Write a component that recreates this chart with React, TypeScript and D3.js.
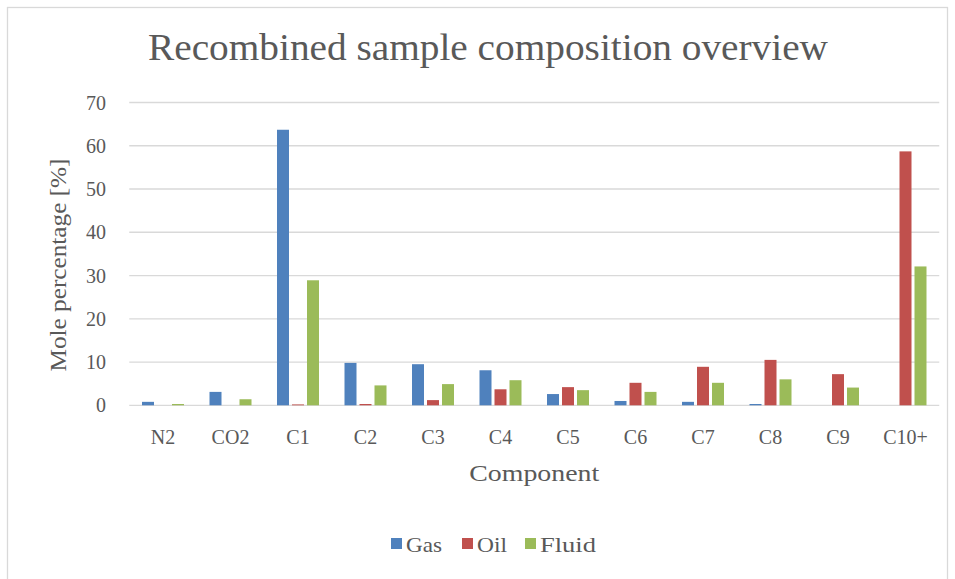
import React from "react";
import * as d3 from "d3";

const categories = ["N2", "CO2", "C1", "C2", "C3", "C4", "C5", "C6", "C7", "C8", "C9", "C10+"];
const seriesNames = ["Gas", "Oil", "Fluid"];
const gasValues = [0.8, 3.1, 63.7, 9.8, 9.5, 8.1, 2.6, 1.0, 0.8, 0.3, 0, 0];
const oilValues = [0, 0, 0.2, 0.3, 1.2, 3.7, 4.2, 5.2, 8.9, 10.5, 7.2, 58.7];
const fluidValues = [0.3, 1.4, 28.9, 4.6, 4.9, 5.8, 3.5, 3.1, 5.2, 6.0, 4.1, 32.1];
const yTicks = [0, 10, 20, 30, 40, 50, 60, 70];
const colors = ["#4f81bd", "#c0504d", "#9bbb59"];

const W = 955;
const H = 579;
const FONT = "'Liberation Serif', 'DejaVu Serif', serif";
const TXT = "#595959";

export default function App() {
  const x0 = d3.scaleBand<string>().domain(categories).range([129.25, 939.25]).padding(0);
  const x1 = d3
    .scaleBand<string>()
    .domain(seriesNames)
    .range([0, x0.bandwidth()])
    .paddingInner(0.2)
    .paddingOuter(0.85);
  const y = d3.scaleLinear().domain([0, 70]).range([405.3, 102.5]);
  const seriesValues = [gasValues, oilValues, fluidValues];
  const [xl, xr] = x0.range();
  const legendX = [391, 462, 525];
  const legendW = [36, 30, 56];

  return (
    <svg width={W} height={H} style={{ position: "absolute", left: 0, top: 0, background: "#fff" }}>
      <rect x={0} y={0} width={W} height={H} fill="#fff" />
      <rect x={7.5} y={7.5} width={940} height={620} fill="#fff" stroke="#d9d9d9" strokeWidth={1.3} />
      <text x={488} y={60} textAnchor="middle" fontFamily={FONT} fontSize={37} fill={TXT}
        textLength={680} lengthAdjust="spacingAndGlyphs">
        Recombined sample composition overview
      </text>
      {yTicks.map((t) => (
        <g key={t}>
          <line x1={xl} x2={xr} y1={y(t)} y2={y(t)} stroke="#d9d9d9" strokeWidth={1.3} />
          <text x={106} y={y(t) + 7} textAnchor="end" fontFamily={FONT} fontSize={20} fill={TXT}>
            {t}
          </text>
        </g>
      ))}
      {seriesNames.map((s, si) => (
        <g key={s}>
          {categories.map((c, ci) => {
            const v = seriesValues[si][ci];
            const bx = (x0(c) as number) + (x1(s) as number);
            return (
              <rect key={c} x={bx} y={y(v)} width={x1.bandwidth()} height={y(0) - y(v)} fill={colors[si]} />
            );
          })}
        </g>
      ))}
      {categories.map((c) => (
        <text key={c} x={(x0(c) as number) + x0.bandwidth() / 2} y={444} textAnchor="middle"
          fontFamily={FONT} fontSize={20} fill={TXT}>
          {c}
        </text>
      ))}
      <text x={(xl + xr) / 2} y={481} textAnchor="middle" fontFamily={FONT} fontSize={23} fill={TXT}
        textLength={130} lengthAdjust="spacingAndGlyphs">
        Component
      </text>
      <text transform={`translate(66,265) rotate(-90)`} textAnchor="middle" fontFamily={FONT} fontSize={23} fill={TXT}
        textLength={213} lengthAdjust="spacingAndGlyphs">
        Mole percentage [%]
      </text>
      {seriesNames.map((s, i) => {
        const lx = legendX[i];
        return (
          <g key={s}>
            <rect x={lx} y={538} width={11} height={11} fill={colors[i]} />
            <text x={lx + 15} y={552} fontFamily={FONT} fontSize={21} fill={TXT}
              textLength={legendW[i]} lengthAdjust="spacingAndGlyphs">
              {s}
            </text>
          </g>
        );
      })}
    </svg>
  );
}
